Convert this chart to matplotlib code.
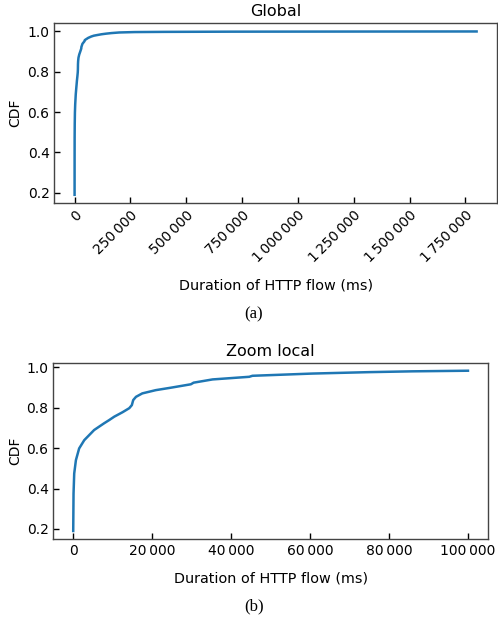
import matplotlib
matplotlib.use("Agg")
import matplotlib.pyplot as plt
from matplotlib.ticker import FuncFormatter, MultipleLocator

duration_ms = [0, 80, 250, 680, 1500, 2800, 5300, 7800, 9100, 10400, 12500, 14200,
               14850, 15200, 15900, 17500, 20900, 24700, 29800, 30500, 35300,
               44600, 45400, 60600, 74900, 85900, 100000, 120000, 140000, 165000,
               200000, 269000, 400000, 700000, 1200000, 1800000]
cdf = [0.19, 0.375, 0.474, 0.54, 0.598, 0.639, 0.689, 0.722, 0.738, 0.755, 0.777, 0.797,
       0.812, 0.837, 0.853, 0.870, 0.886, 0.898, 0.915, 0.923, 0.939,
       0.952, 0.957, 0.968, 0.975, 0.979, 0.982, 0.986, 0.989, 0.992,
       0.995, 0.997, 0.998, 0.999, 0.9995, 1.0]
zoom_limit = 100000

titles = ["Global", "Zoom local"]
xlabel = "Duration of HTTP flow (ms)"
ylabel = "CDF"
captions = ["(a)", "(b)"]

def fmt(v, pos):
    return "{:,}".format(int(round(v))).replace(",", "\u2009")

fig = plt.figure(figsize=(4.98, 6.23), dpi=100)
ax1 = fig.add_axes([0.1094, 0.6742, 0.8880, 0.2884])
ax2 = fig.add_axes([0.1074, 0.1348, 0.8719, 0.2830])

zx = [d for d in duration_ms if d <= zoom_limit]
zy = cdf[:len(zx)]

for ax, x, y, t in [(ax1, duration_ms, cdf, titles[0]), (ax2, zx, zy, titles[1])]:
    ax.plot(x, y, color="#1f77b4", lw=1.8)
    ax.set_title(t, fontsize=11.5, pad=5)
    ax.set_ylabel(ylabel, fontsize=10)
    ax.tick_params(direction="in", length=4, width=1, labelsize=10, top=False, right=False)
    for s in ax.spines.values():
        s.set_color("#444444")
        s.set_linewidth(1.0)
    ax.xaxis.set_major_formatter(FuncFormatter(fmt))
    ax.set_yticks([0.2, 0.4, 0.6, 0.8, 1.0])

ax1.xaxis.set_major_locator(MultipleLocator(250000))
ax2.xaxis.set_major_locator(MultipleLocator(20000))
for lbl in ax1.get_xticklabels():
    lbl.set_rotation(45)
    lbl.set_ha("right")
    lbl.set_rotation_mode("anchor")

ax1.set_xlabel(xlabel, fontsize=10.4)
ax2.set_xlabel(xlabel, fontsize=10.4)
ax1.xaxis.set_label_coords(0.5, -0.423)
ax2.xaxis.set_label_coords(0.5, -0.187)
ax1.yaxis.set_label_coords(-0.074, 0.5)
ax2.yaxis.set_label_coords(-0.073, 0.5)

fig.text(0.51, 1 - 314 / 623, captions[0], ha="center", va="center",
         family=["Liberation Serif", "DejaVu Serif"], fontsize=12)
fig.text(0.51, 1 - 606 / 623, captions[1], ha="center", va="center",
         family=["Liberation Serif", "DejaVu Serif"], fontsize=12)

fig.savefig("out.png", dpi=100)
